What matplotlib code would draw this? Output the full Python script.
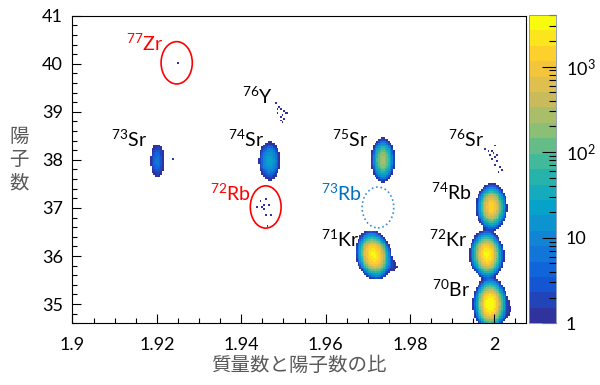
#import neccessary libraries
import numpy as np
import matplotlib
matplotlib.use("Agg")
import matplotlib.pyplot as plt
from matplotlib.colors import LinearSegmentedColormap, LogNorm
from matplotlib.patches import Ellipse
from matplotlib.ticker import MultipleLocator, FixedLocator, FixedFormatter

plt.rcParams['font.family'] = ['Lato', 'Noto Sans CJK JP', 'DejaVu Sans']
plt.rcParams['mathtext.fontset'] = 'custom'
plt.rcParams['mathtext.rm'] = 'Lato'
plt.rcParams['mathtext.default'] = 'rm'

#dense clusters: centre, width, peak counts, tilt
cl_name = ['71Kr', '72Kr', '74Rb', '70Br', '75Sr', '74Sr', '73Sr',
           '71Kr tail', '72Kr halo', '74Rb halo', '70Br tail', '75Sr halo']
cl_x = [1.9714, 1.9982, 1.9993, 1.9990, 1.9736, 1.9467, 1.9201,
        1.9750, 1.9982, 1.9993, 2.0012, 1.9736]
cl_y = [36.02, 36.03, 37.02, 35.00, 38.00, 37.98, 37.98,
        35.85, 36.00, 37.00, 34.95, 38.00]
cl_sx = [0.00108, 0.001, 0.00095, 0.001, 0.00085, 0.0010, 0.0008,
         0.0016, 0.0026, 0.0020, 0.0018, 0.0014]
cl_sy = [0.13, 0.13, 0.13, 0.14, 0.14, 0.16, 0.18,
         0.12, 0.14, 0.20, 0.16, 0.18]
cl_peak = [3000, 3000, 1500, 4000, 250, 25, 7,
           2.3, 2.2, 2.2, 3, 2.2]
cl_rho = [-0.15, -0.05, 0.0, 0.0, 0.0, 0.0, 0.0,
          -0.5, 0.0, 0.0, -0.3, 0.0]

#single events (sparse spots)
pt_x = [1.9248,
        1.94386, 1.94448, 1.94529, 1.94567, 1.94505, 1.94543, 1.94662, 1.94583, 1.94702, 1.94624,
        1.94821, 1.94900, 1.94845, 1.94940, 1.95005, 1.94876, 1.94981, 1.94924, 1.95060, 1.95019,
        1.94940, 1.94981, 1.95100,
        1.99781, 1.99862, 1.99940, 1.99981, 2.00036, 1.99900, 2.00005, 1.99957, 2.00060, 2.00019,
        2.00138, 2.00179, 2.00100, 2.00060,
        1.9239, 1.9195]
pt_y = [40.00,
        37.03, 37.13, 37.06, 37.17, 37.00, 36.96, 37.06, 36.86, 36.86, 36.61,
        39.18, 39.11, 39.04, 39.04, 39.00, 38.97, 38.94, 38.90, 38.97, 38.87,
        38.83, 38.76, 38.99,
        38.22, 38.17, 38.19, 38.14, 38.28, 38.10, 38.06, 38.00, 37.96, 37.90,
        37.86, 37.79, 37.72, 38.10,
        38.00, 38.30]

#nuclide labels
lab_text = [r'$^{77}$Zr', r'$^{76}$Y', r'$^{73}$Sr', r'$^{74}$Sr', r'$^{75}$Sr', r'$^{76}$Sr',
            r'$^{72}$Rb', r'$^{73}$Rb', r'$^{74}$Rb', r'$^{71}$Kr', r'$^{72}$Kr', r'$^{70}$Br']
lab_x = [1.9216, 1.9475, 1.9177, 1.9454, 1.9701, 1.9975,
         1.9423, 1.9685, 1.9946, 1.9680, 1.9935, 1.9942]
lab_y = [40.42, 39.32, 38.43, 38.43, 38.43, 38.43,
         37.31, 37.31, 37.33, 36.34, 36.34, 35.31]
lab_col = ['#ff0000', 'black', 'black', 'black', 'black', 'black',
           '#ff0000', '#0070c0', 'black', 'black', 'black', 'black']

#circles round rare nuclei
ell_x = [1.9247, 1.9458, 1.9724]
ell_y = [40.02, 37.02, 37.01]
ell_w = [0.0074, 0.0073, 0.0075]
ell_h = [0.88, 0.88, 0.85]
ell_col = ['#ff0000', '#ff0000', '#3a8fd0']
ell_ls = ['-', '-', ':']

#ROOT kBird-like palette, 20 contour bands
bird = [(0.19, 0.20, 0.62), (0.0592, 0.3599, 0.8684), (0.0780, 0.5041, 0.8385),
        (0.0232, 0.6419, 0.7914), (0.1802, 0.7178, 0.6425), (0.5301, 0.7492, 0.4662),
        (0.8186, 0.7328, 0.3499), (0.9956, 0.7862, 0.1968), (0.9764, 0.9832, 0.0539)]
cmap = LinearSegmentedColormap.from_list('bird', bird, N=20)

#build the histogram
xe = np.arange(1.9, 2.0076, 0.0004)
ye = np.arange(34.6, 41.0001, 0.04)
xc = (xe[:-1] + xe[1:]) / 2
yc = (ye[:-1] + ye[1:]) / 2
X, Y = np.meshgrid(xc, yc, indexing='ij')
counts = np.zeros(X.shape)
for i in range(len(cl_name)):
    dx = (X - cl_x[i]) / cl_sx[i]
    dy = (Y - cl_y[i]) / cl_sy[i]
    r = cl_rho[i]
    q = (dx**2 - 2*r*dx*dy + dy**2) / (1 - r**2)
    counts += cl_peak[i] * np.exp(-0.5 * q)
h, _, _ = np.histogram2d(pt_x, pt_y, bins=[xe, ye])
counts = np.floor(counts) + h
counts = np.ma.masked_less(counts, 1)

fig = plt.figure(figsize=(6, 3.85), dpi=100)
ax = fig.add_axes([0.1208, 0.1603, 0.7559, 0.7989])
cax = fig.add_axes([0.8817, 0.1603, 0.045, 0.8007])

mesh = ax.pcolormesh(xe, ye, counts.T, cmap=cmap, norm=LogNorm(vmin=1, vmax=4000))

for i in range(len(ell_x)):
    ax.add_patch(Ellipse((ell_x[i], ell_y[i]), ell_w[i], ell_h[i], fill=False,
                         edgecolor=ell_col[i], linestyle=ell_ls[i], linewidth=1.2))

for i in range(len(lab_text)):
    ax.text(lab_x[i], lab_y[i], lab_text[i], color=lab_col[i], fontsize=14,
            ha='right', va='center')

ax.set_xlim(1.9, 2.0075)
ax.set_ylim(34.6, 41)
ax.xaxis.set_minor_locator(MultipleLocator(0.005))
ax.yaxis.set_major_locator(MultipleLocator(1))
ax.yaxis.set_minor_locator(MultipleLocator(0.2))
ax.set_xticks([1.9, 1.92, 1.94, 1.96, 1.98, 2.0])
ax.set_xticklabels(['1.9', '1.92', '1.94', '1.96', '1.98', '2'])
ax.tick_params(which='both', direction='in', top=False, right=False, width=0.8, labelsize=13)
ax.tick_params(axis='x', which='major', length=6.5, pad=10)
ax.tick_params(axis='y', which='major', length=6.5, pad=7)
ax.tick_params(which='minor', length=3.3)
for s in ax.spines.values():
    s.set_linewidth(0.8)

ax.set_xlabel('質量数と陽子数の比', family='Noto Sans CJK JP', fontsize=14, color='#595959',
              labelpad=1)
fig.text(0.032, 0.585, '陽\n子\n数', family='Noto Sans CJK JP', fontsize=14, color='#595959',
         ha='center', va='center', linespacing=1.15)

#colour bar
cb = fig.colorbar(mesh, cax=cax)
cb.outline.set_linewidth(0.6)
cb.outline.set_edgecolor('#8090b0')
cax.yaxis.set_major_locator(FixedLocator([1, 10, 100, 1000]))
cax.yaxis.set_major_formatter(FixedFormatter(['1', '10', r'10$^{2}$', r'10$^{3}$']))
minors = [m * 10**e for e in range(0, 4) for m in range(2, 10) if m * 10**e <= 4000]
cax.yaxis.set_minor_locator(FixedLocator(minors))
cax.yaxis.set_minor_formatter(FixedFormatter([''] * len(minors)))
cax.tick_params(which='both', direction='in', right=True, left=False, labelsize=13, width=0.8, pad=7)
cax.tick_params(which='major', length=10)
cax.tick_params(which='minor', length=5)

plt.savefig('out.png', dpi=100)
